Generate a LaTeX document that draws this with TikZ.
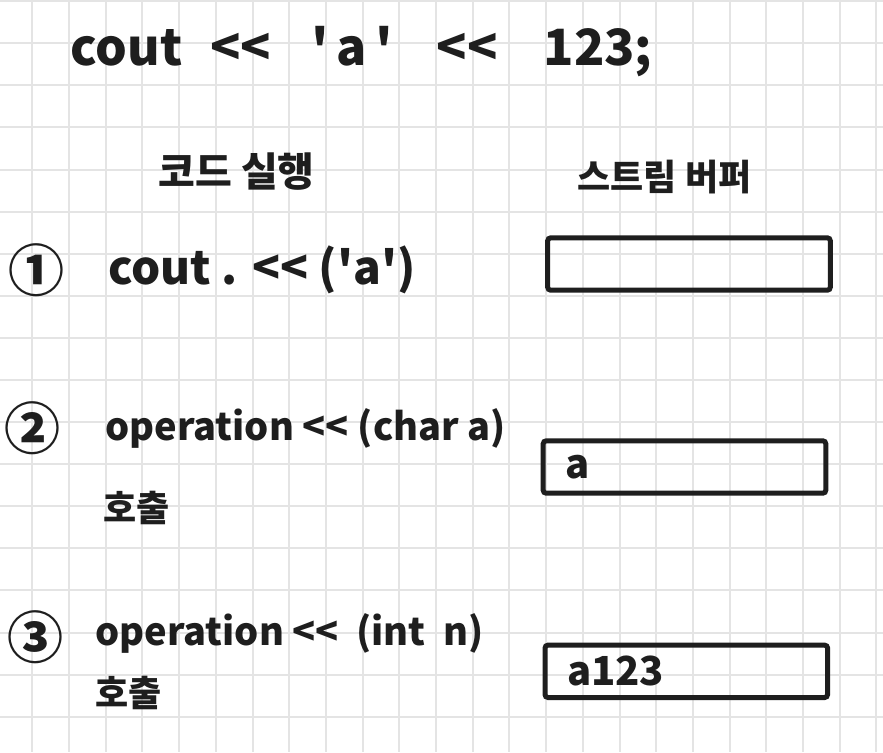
\documentclass[tikz,border=0pt]{standalone}
\usepackage{fontspec}
\setmainfont{Noto Sans CJK KR}[Ligatures=TeXOff]
\usetikzlibrary{positioning}
\definecolor{tinta}{HTML}{1E1E1E}
\definecolor{cuadro}{HTML}{E4E4E4}
\tikzset{
  cuad/.style={draw=cuadro, line width=1pt},
  bufbox/.style={rectangle, rounded corners=1.5pt, draw=tinta, line width=2.5pt,
                 minimum width=141.3pt, minimum height=26.2pt, text width=119.3pt,
                 align=left, inner xsep=11pt, inner ysep=0pt,
                 font=\fontsize{20}{20}\selectfont\bfseries, text=tinta},
  codigo/.style={anchor=west, inner sep=0pt, font=\fontsize{19}{19}\selectfont\bfseries, text=tinta},
  num/.style={inner sep=0pt, font=\fontsize{28}{28}\selectfont\bfseries, text=tinta},
  titulo/.style={anchor=west, inner sep=0pt, font=\fontsize{20}{20}\selectfont\bfseries, text=tinta},
  llamada/.style={anchor=west, inner sep=0pt, font=\fontsize{18}{18}\selectfont\bfseries, text=tinta}
}
\begin{document}
\begin{tikzpicture}[x=0.5pt, y=-0.5pt]
  \useasboundingbox (0,0) rectangle (883,752);
  \fill [white] (0,0) rectangle (883,752);
  % cuadricula
  \foreach \gx in {0,...,23}
    \draw [cuad] ({32.3+36.7*\gx},0) -- ++(0,752);
  \foreach \gy in {-1,...,16}
    \draw [cuad] (0,{43.3+42.09*\gy}) -- ++(883,0);
  % sentencia
  \node (linea) [codigo, font=\fontsize{25}{25}\selectfont\bfseries] at (70,52)
    {cout\hspace{14pt}<<\hspace{20pt}'\hspace{4pt}a\hspace{4pt}'\hspace{22pt}<<\hspace{23pt}123;};
  % columnas
  \node (colcod) [titulo] at (158,172) {코드 실행};
  \node (colbuf) [titulo, font=\fontsize{18}{18}\selectfont\bfseries] at (577,177) {스트림 버퍼};
  % paso 1
  \node (n1) [num] at (37,270) {①};
  \node (paso1) [codigo, font=\fontsize{23}{23}\selectfont\bfseries] at (108,270) {cout . << ('a')};
  \node (buf1) [bufbox] at (689,264) {};
  % paso 2
  \node (n2) [num] at (32,428) {②};
  \node (paso2) [codigo] at (105,428) {operation << (char a)};
  \node (call2) [llamada] at (103,508) {호출};
  \node (buf2) [bufbox] at (684.5,467) {a};
  % paso 3
  \node (n3) [num] at (36,637) {③};
  \node (paso3) [codigo] at (95,633) {operation <<\ \ (int\ \ n)};
  \node (call3) [llamada] at (95,693) {호출};
  \node (buf3) [bufbox] at (686.3,671.3) {a123};
\end{tikzpicture}
\end{document}
